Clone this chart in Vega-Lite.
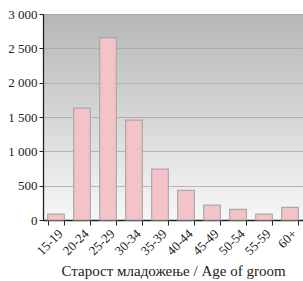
{
  "$schema": "https://vega.github.io/schema/vega-lite/v6.json",
  "autosize": {"type": "none"},
  "padding": {"left": 43, "top": 14, "right": 0, "bottom": 61},
  "width": 260,
  "height": 206,
  "background": "white",
  "config": {
    "view": {
      "stroke": null,
      "fill": {
        "gradient": "linear",
        "x1": 0, "y1": 0, "x2": 0, "y2": 1,
        "stops": [
          {"offset": 0, "color": "#b6b6b6"},
          {"offset": 1, "color": "#f7f7f7"}
        ]
      }
    },
    "font": "Times New Roman",
    "axis": {"labelFont": "Times New Roman", "titleFont": "Times New Roman"}
  },
  "data": {
    "values": [
      {"age": "15-19", "count": 85},
      {"age": "20-24", "count": 1630},
      {"age": "25-29", "count": 2655},
      {"age": "30-34", "count": 1455},
      {"age": "35-39", "count": 740},
      {"age": "40-44", "count": 432},
      {"age": "45-49", "count": 218},
      {"age": "50-54", "count": 156},
      {"age": "55-59", "count": 87},
      {"age": "60+", "count": 185}
    ]
  },
  "mark": {"type": "bar", "color": "#f4c3c7", "stroke": "#a9a9a9", "strokeWidth": 1.2},
  "encoding": {
    "x": {
      "field": "age",
      "type": "nominal",
      "sort": null,
      "scale": {"paddingInner": 0.36, "paddingOuter": 0.18},
      "axis": {
        "title": "Старост младожење / Age of groom",
        "titleFontWeight": "normal",
        "titleFontSize": 15,
        "titleColor": "#222",
        "titlePadding": 6,
        "labelAngle": -45,
        "labelFontSize": 13,
        "labelColor": "#222",
        "tickBand": "extent",
        "domainColor": "#222",
        "domainWidth": 1.3,
        "tickColor": "#222",
        "tickSize": 5,
        "grid": false
      }
    },
    "y": {
      "field": "count",
      "type": "quantitative",
      "scale": {"domain": [0, 3000], "nice": false},
      "axis": {
        "title": null,
        "values": [0, 500, 1000, 1500, 2000, 2500, 3000],
        "labelExpr": "replace(format(datum.value, ','), ',', ' ')",
        "labelFontSize": 13,
        "labelColor": "#222",
        "domainColor": "#222",
        "domainWidth": 1.3,
        "tickColor": "#222",
        "tickSize": 4,
        "labelPadding": 2,
        "gridColor": "#a8a8a8",
        "gridOpacity": 0.8,
        "gridWidth": 1.2
      }
    }
  }
}
